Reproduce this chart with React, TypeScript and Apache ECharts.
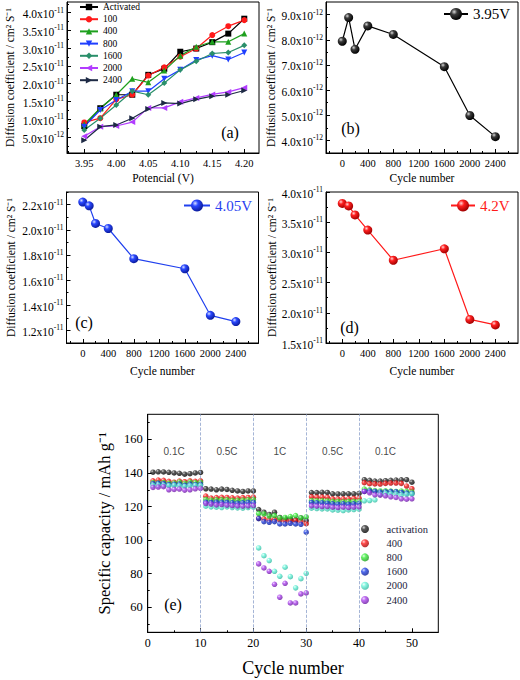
import React, { useEffect, useRef } from 'react';
import * as echarts from 'echarts';

const SERIF = "'Liberation Serif', 'Times New Roman', serif";
const SANS = "'Liberation Sans', Arial, sans-serif";

// ---------- (a) diffusion coefficient vs potential ----------
const potentials = [3.95, 3.975, 4.0, 4.025, 4.05, 4.075, 4.1, 4.125, 4.15, 4.175, 4.2];
const dActivated = [0.81e-11, 1.31e-11, 1.69e-11, 1.69e-11, 2.25e-11, 2.42e-11, 2.9e-11, 2.99e-11, 3.17e-11, 3.41e-11, 3.83e-11];
const d100 = [0.91e-11, 1.03e-11, 1.56e-11, 1.69e-11, 2.23e-11, 2.46e-11, 2.76e-11, 2.99e-11, 3.37e-11, 3.62e-11, 3.79e-11];
const d400 = [0.86e-11, 1.31e-11, 1.69e-11, 2.14e-11, 2.04e-11, 2.37e-11, 2.79e-11, 3.04e-11, 3.18e-11, 3.18e-11, 3.41e-11];
const d800 = [0.79e-11, 1.26e-11, 1.54e-11, 1.79e-11, 1.79e-11, 2.14e-11, 2.39e-11, 2.67e-11, 2.79e-11, 2.68e-11, 2.88e-11];
const d1600 = [0.7e-11, 1.03e-11, 1.4e-11, 1.79e-11, 1.69e-11, 2.02e-11, 2.39e-11, 2.63e-11, 2.85e-11, 2.88e-11, 3.08e-11];
const d2000 = [0.52e-11, 0.79e-11, 0.81e-11, 0.92e-11, 1.32e-11, 1.32e-11, 1.49e-11, 1.6e-11, 1.7e-11, 1.77e-11, 1.89e-11];
const d2400 = [0.41e-11, 0.79e-11, 0.84e-11, 1.03e-11, 1.29e-11, 1.46e-11, 1.44e-11, 1.56e-11, 1.65e-11, 1.69e-11, 1.81e-11];
const aNames = ['Activated', '100', '400', '800', '1600', '2000', '2400'];
const aXTicks = [3.95, 4.0, 4.05, 4.1, 4.15, 4.2];
const aYTicks = [5e-12, 1.0e-11, 1.5e-11, 2.0e-11, 2.5e-11, 3.0e-11, 3.5e-11, 4.0e-11];

// ---------- (b)(c)(d) diffusion coefficient vs cycle ----------
const cycleCounts = [0, 100, 200, 400, 800, 1600, 2000, 2400];
const d395V = [7.94e-12, 8.88e-12, 7.62e-12, 8.55e-12, 8.21e-12, 6.93e-12, 4.99e-12, 4.15e-12];
const d405V = [2.22e-11, 2.19e-11, 2.05e-11, 2.01e-11, 1.77e-11, 1.69e-11, 1.32e-11, 1.27e-11];
const d42V = [3.81e-11, 3.77e-11, 3.62e-11, 3.37e-11, 2.87e-11, 3.06e-11, 1.89e-11, 1.8e-11];
const cycleTicks = [0, 400, 800, 1200, 1600, 2000, 2400];
const bYTicks = [4e-12, 5e-12, 6e-12, 7e-12, 8e-12, 9e-12];
const cYTicks = [1.2e-11, 1.4e-11, 1.6e-11, 1.8e-11, 2.0e-11, 2.2e-11];
const dYTicks = [1.5e-11, 2.0e-11, 2.5e-11, 3.0e-11, 3.5e-11, 4.0e-11];

// ---------- (e) rate capability ----------
const rateCycles = Array.from({ length: 50 }, (_, i) => i + 1);
const capActivation = [
  140.5, 140.7, 140.6, 140.4, 140.0, 139.8, 139.3, 139.6, 140.0, 140.3,
  130.6, 130.4, 130.0, 130.4, 130.2, 129.7, 129.3, 129.0, 129.3, 129.3,
  118.2, 116.6, 115.3, 116.6, 113.5, 112.8, 112.5, 112.0, 113.2, 111.6,
  128.3, 128.3, 128.5, 128.4, 127.6, 127.5, 127.6, 127.6, 127.6, 127.8,
  136.0, 135.6, 135.2, 135.2, 135.4, 135.6, 135.8, 135.9, 136.0, 134.5,
];
const cap400 = [
  135.3, 135.8, 135.6, 135.0, 134.5, 135.2, 134.8, 135.3, 135.0, 135.3,
  126.2, 125.0, 125.3, 125.5, 125.4, 125.2, 125.0, 125.3, 125.4, 125.6,
  113.0, 112.6, 112.0, 112.5, 112.0, 111.5, 111.4, 111.6, 111.0, 109.8,
  125.8, 125.6, 125.6, 125.5, 124.6, 124.5, 124.6, 124.6, 124.8, 125.0,
  134.2, 133.6, 133.5, 133.4, 133.8, 134.0, 134.0, 133.8, 132.2, 130.6,
];
const cap800 = [
  134.2, 134.0, 134.2, 133.8, 134.0, 134.6, 133.8, 134.6, 134.2, 134.4,
  124.2, 123.8, 124.0, 124.0, 124.0, 123.6, 123.7, 123.8, 124.0, 124.2,
  115.8, 115.6, 114.3, 114.6, 113.2, 113.5, 114.0, 114.6, 113.2, 113.8,
  123.5, 123.4, 123.4, 123.3, 123.0, 123.0, 122.8, 123.0, 123.0, 123.2,
  130.4, 130.0, 129.5, 129.3, 129.4, 129.2, 129.0, 129.2, 129.0, 128.6,
];
const cap1600 = [
  133.6, 133.8, 133.6, 133.0, 133.2, 133.4, 132.6, 133.4, 133.0, 133.2,
  122.6, 122.4, 122.6, 122.5, 122.4, 122.2, 122.0, 122.2, 122.4, 122.4,
  112.8, 111.0, 110.6, 111.0, 109.6, 109.6, 110.0, 109.6, 109.4, 104.7,
  122.4, 122.2, 122.2, 122.0, 121.6, 121.4, 121.6, 121.4, 121.6, 121.8,
  129.0, 129.3, 129.0, 128.6, 128.8, 128.9, 128.8, 128.4, 128.0, 127.8,
];
const cap2000 = [
  132.6, 132.8, 132.6, 132.4, 132.6, 132.4, 132.0, 132.4, 132.6, 132.4,
  120.2, 119.8, 119.6, 119.4, 119.8, 119.4, 119.2, 119.0, 119.4, 119.6,
  95.3, 90.7, 87.8, 81.4, 78.4, 83.8, 78.2, 71.5, 77.0, 80.2,
  119.0, 118.8, 118.6, 118.6, 118.0, 117.8, 117.6, 118.0, 118.2, 118.4,
  123.4, 123.6, 124.0, 127.2, 127.8, 127.6, 127.4, 127.0, 127.2, 127.4,
];
const cap2400 = [
  131.4, 131.6, 131.8, 130.0, 130.2, 130.4, 129.8, 130.0, 130.6, 130.8,
  121.8, 121.4, 121.0, 121.2, 120.8, 120.6, 120.4, 120.2, 120.4, 120.6,
  85.8, 83.4, 81.4, 73.6, 65.9, 74.2, 62.5, 62.5, 67.9, 68.5,
  120.4, 120.2, 120.0, 120.0, 119.6, 119.4, 119.6, 119.4, 119.6, 119.8,
  129.0, 128.2, 127.0, 126.8, 126.4, 125.8, 125.4, 124.6, 124.4, 124.6,
];
const eNames = ['activation', '400', '800', '1600', '2000', '2400'];
const eXTicks = [0, 10, 20, 30, 40, 50];
const eYTicks = [60, 80, 100, 120, 140, 160];
const rateLabels = ['0.1C', '0.5C', '1C', '0.5C', '0.1C'];
const rateCenters = [5, 15, 25, 35, 45];
const rateLabelLevel = 153;
const rateBoundaries = [10, 20, 30, 40];

// ---------- helpers ----------
const sci = (v: number) => {
  const e = Math.floor(Math.log10(v) + 1e-9);
  const m = v / Math.pow(10, e);
  return `{m|${m.toFixed(1)}x10}{s|${e}}`;
};
const sciRich = {
  m: { fontFamily: SERIF, fontSize: 11.5, color: '#000', lineHeight: 13, padding: [3, 0, 0, 0] },
  s: { fontFamily: SERIF, fontSize: 7.5, color: '#000', lineHeight: 8, verticalAlign: 'top' },
};

const midTicks = (majors: number[], min: number, max: number) => {
  const step = majors[1] - majors[0];
  const out: number[] = [];
  for (let i = -1; i < majors.length; i++) {
    const v = majors[0] + (i + 0.5) * step;
    if (v > min && v < max) out.push(v);
  }
  return out;
};

type AxisSpec = {
  grid: number; dim: 'x' | 'y'; min: number; max: number; majors: number[];
  fmt: (v: number) => string; fontSize: number; margin: number;
  name: string; nameGap: number; nameSize: number; rich?: any;
};
const buildAxes = (s: AxisSpec) => {
  const position = s.dim === 'x' ? 'bottom' : 'left';
  const main = {
    type: 'value', gridIndex: s.grid, min: s.min, max: s.max, position,
    axisLine: { show: true, onZero: false, lineStyle: { color: '#000', width: 1 } },
    axisTick: { show: true, inside: true, length: 4, customValues: s.majors, lineStyle: { color: '#000', width: 1 } },
    axisLabel: {
      show: true, customValues: s.majors, formatter: s.fmt, margin: s.margin, color: '#000',
      fontFamily: SERIF, fontSize: s.fontSize, rich: s.rich,
    },
    splitLine: { show: false },
    name: s.name, nameLocation: 'middle', nameGap: s.nameGap,
    nameTextStyle: { fontFamily: SERIF, fontSize: s.nameSize, color: '#000' },
  };
  const minor = {
    type: 'value', gridIndex: s.grid, min: s.min, max: s.max, position,
    axisLine: { show: false, onZero: false },
    axisTick: { show: true, inside: true, length: 2, customValues: midTicks(s.majors, s.min, s.max), lineStyle: { color: '#000', width: 1 } },
    axisLabel: { show: false },
    splitLine: { show: false },
  };
  return [main, minor];
};

const ball = (hi: string, base: string, dark: string) =>
  new echarts.graphic.RadialGradient(0.35, 0.32, 0.7, [
    { offset: 0, color: hi },
    { offset: 0.35, color: base },
    { offset: 1, color: dark },
  ]);

const DIFF_NAME = 'Diffusion coefficient / cm² S⁻¹';

const panelLabel = (text: string, x: number, y: number) => ({
  type: 'text', x, y,
  style: { text, fontFamily: SERIF, fontSize: 16, fill: '#000', align: 'center', verticalAlign: 'middle', textAlign: 'center', textVerticalAlign: 'middle' },
});

export default function App() {
  const ref = useRef<HTMLDivElement>(null);
  useEffect(() => {
    if (!ref.current) return;
    const chart = echarts.init(ref.current, undefined, { renderer: 'svg' });

    const grids = [
      { left: 67, top: 2, width: 192, height: 151 },
      { left: 326, top: 2, width: 192, height: 151 },
      { left: 66.5, top: 192, width: 192, height: 151 },
      { left: 326, top: 192, width: 192, height: 151 },
      { left: 147.7, top: 414.3, width: 290.6, height: 218 },
    ].map((g) => ({ ...g, show: true, borderColor: '#000', borderWidth: 1, backgroundColor: 'transparent' }));

    const xAxes = [
      ...buildAxes({ grid: 0, dim: 'x', min: 3.923, max: 4.223, majors: aXTicks, fmt: (v) => v.toFixed(2), fontSize: 10.5, margin: 5, name: 'Potencial (V)', nameGap: 19, nameSize: 11.5 }),
      ...buildAxes({ grid: 1, dim: 'x', min: -255, max: 2755, majors: cycleTicks, fmt: (v) => String(v), fontSize: 10.5, margin: 5, name: 'Cycle number', nameGap: 19, nameSize: 11.5 }),
      ...buildAxes({ grid: 2, dim: 'x', min: -255, max: 2755, majors: cycleTicks, fmt: (v) => String(v), fontSize: 10.5, margin: 5, name: 'Cycle number', nameGap: 22, nameSize: 11.5 }),
      ...buildAxes({ grid: 3, dim: 'x', min: -255, max: 2755, majors: cycleTicks, fmt: (v) => String(v), fontSize: 10.5, margin: 5, name: 'Cycle number', nameGap: 22, nameSize: 11.5 }),
      ...buildAxes({ grid: 4, dim: 'x', min: 0, max: 55, majors: eXTicks, fmt: (v) => String(v), fontSize: 12, margin: 5, name: 'Cycle number', nameGap: 27, nameSize: 18 }),
    ];
    const yAxes = [
      ...buildAxes({ grid: 0, dim: 'y', min: 0.05e-11, max: 4.3e-11, majors: aYTicks, fmt: sci, fontSize: 11, margin: 3, name: DIFF_NAME, nameGap: 51, nameSize: 11.5, rich: sciRich }),
      ...buildAxes({ grid: 1, dim: 'y', min: 3.5e-12, max: 9.5e-12, majors: bYTicks, fmt: sci, fontSize: 11, margin: 3, name: DIFF_NAME, nameGap: 49, nameSize: 11.5, rich: sciRich }),
      ...buildAxes({ grid: 2, dim: 'y', min: 1.1e-11, max: 2.3e-11, majors: cYTicks, fmt: sci, fontSize: 11, margin: 3, name: DIFF_NAME, nameGap: 50, nameSize: 11.5, rich: sciRich }),
      ...buildAxes({ grid: 3, dim: 'y', min: 1.5e-11, max: 4.0e-11, majors: dYTicks, fmt: sci, fontSize: 11, margin: 3, name: DIFF_NAME, nameGap: 46, nameSize: 11.5, rich: sciRich }),
      ...buildAxes({ grid: 4, dim: 'y', min: 45, max: 175, majors: eYTicks, fmt: (v) => String(v), fontSize: 12.5, margin: 5, name: 'Specific capacity / mAh g⁻¹', nameGap: 33, nameSize: 16.5 }),
    ];

    const aData = [dActivated, d100, d400, d800, d1600, d2000, d2400];
    const aStyles = [
      { color: '#000000', symbol: 'rect', rotate: 0 },
      { color: '#ff1a1a', symbol: 'circle', rotate: 0 },
      { color: '#1ea01e', symbol: 'triangle', rotate: 0 },
      { color: '#1f3fff', symbol: 'triangle', rotate: 180 },
      { color: '#2a8f6a', symbol: 'diamond', rotate: 0 },
      { color: '#b23cff', symbol: 'triangle', rotate: 90 },
      { color: '#1e2a45', symbol: 'triangle', rotate: -90 },
    ];
    const aSeries = aNames.map((name, k) => ({
      type: 'line', name, xAxisIndex: 0, yAxisIndex: 0,
      data: potentials.map((p, i) => [p, aData[k][i]]),
      symbol: aStyles[k].symbol, symbolRotate: aStyles[k].rotate, symbolSize: 6,
      lineStyle: { color: aStyles[k].color, width: 1.2 },
      itemStyle: { color: aStyles[k].color },
    }));

    const cycSeries = (name: string, values: number[], grid: number, line: string, fill: any) => ({
      type: 'line', name, xAxisIndex: grid * 2, yAxisIndex: grid * 2,
      data: cycleCounts.map((c, i) => [c, values[i]]),
      symbol: 'circle', symbolSize: 9,
      lineStyle: { color: line, width: 1.2 },
      itemStyle: { color: fill },
    });

    const eData = [capActivation, cap400, cap800, cap1600, cap2000, cap2400];
    const eColors = [
      ['#d0d0d0', '#303030', '#000000'],
      ['#ffd0d0', '#ff2020', '#a00000'],
      ['#e0ffe0', '#3ef03e', '#1a9a1a'],
      ['#d0d8ff', '#2446e8', '#0a1a90'],
      ['#f0fffa', '#70f5dc', '#30b8a0'],
      ['#f0d8ff', '#b048f0', '#6a1aa0'],
    ];
    const eSeries = eNames.map((name, k) => ({
      type: 'scatter', name: 'e:' + name, xAxisIndex: 8, yAxisIndex: 8,
      data: rateCycles.map((c, i) => [c, eData[k][i]]),
      symbol: 'circle', symbolSize: 5.5,
      itemStyle: { color: ball(eColors[k][0], eColors[k][1], eColors[k][2]) },
    }));

    const rateSeries = {
      type: 'scatter', name: 'rates', xAxisIndex: 8, yAxisIndex: 8, silent: true,
      data: rateCenters.map((x, i) => [x, rateLabelLevel, rateLabels[i]]),
      symbolSize: 1, itemStyle: { color: 'transparent' },
      label: { show: true, position: 'inside', formatter: (p: any) => p.data[2], fontFamily: SANS, fontSize: 10, color: '#111' },
      markLine: {
        silent: true, symbol: ['none', 'none'], label: { show: false },
        lineStyle: { type: 'dashed', color: '#8ea2cc', width: 0.8 },
        emphasis: { disabled: true },
        data: rateBoundaries.map((x) => ({ xAxis: x })),
      },
      z: 1,
    };

    const legendBase = { orient: 'vertical', padding: 0, selectedMode: false };

    chart.setOption({
      animation: false,
      backgroundColor: '#fff',
      textStyle: { fontFamily: SERIF },
      grid: grids,
      xAxis: xAxes,
      yAxis: yAxes,
      legend: [
        { ...legendBase, data: aNames, left: 79, top: 2, itemWidth: 18, itemHeight: 8, itemGap: 2.2, textStyle: { fontFamily: SERIF, fontSize: 9.5, color: '#000' } },
        { ...legendBase, data: ['3.95V'], left: 443, top: 6.5, itemWidth: 24, itemHeight: 15, textStyle: { fontFamily: SERIF, fontSize: 15, color: '#000' } },
        { ...legendBase, data: ['4.05V'], left: 183, top: 198, itemWidth: 26, itemHeight: 15, textStyle: { fontFamily: SERIF, fontSize: 15, color: '#2a3ff0' } },
        { ...legendBase, data: ['4.2V'], left: 450, top: 198, itemWidth: 24, itemHeight: 15, textStyle: { fontFamily: SERIF, fontSize: 15, color: '#ff1a1a' } },
        {
          ...legendBase, data: eNames.map((n) => 'e:' + n), formatter: (n: string) => n.slice(2),
          left: 361, top: 523.5, itemWidth: 17, itemHeight: 8, itemGap: 3.2,
          textStyle: { fontFamily: SERIF, fontSize: 10.5, color: '#1c1c3c', padding: [0, 0, 0, 8] },
        },
      ],
      series: [
        ...aSeries,
        cycSeries('3.95V', d395V, 1, '#000000', ball('#d8d8d8', '#3a3a3a', '#000000')),
        cycSeries('4.05V', d405V, 2, '#2040ee', ball('#d8e0ff', '#2a48ff', '#0a1a9a')),
        cycSeries('4.2V', d42V, 3, '#ff1a1a', ball('#ffd8d8', '#ff2020', '#a00000')),
        rateSeries,
        ...eSeries,
      ],
      graphic: [
        panelLabel('(a)', 230, 132),
        panelLabel('(b)', 350.5, 128),
        panelLabel('(c)', 84, 322),
        panelLabel('(d)', 349.5, 327),
        panelLabel('(e)', 173, 604),
      ],
    });
    return () => chart.dispose();
  }, []);
  return <div ref={ref} style={{ position: 'absolute', left: 0, top: 0, width: 520, height: 680 }} />;
}
